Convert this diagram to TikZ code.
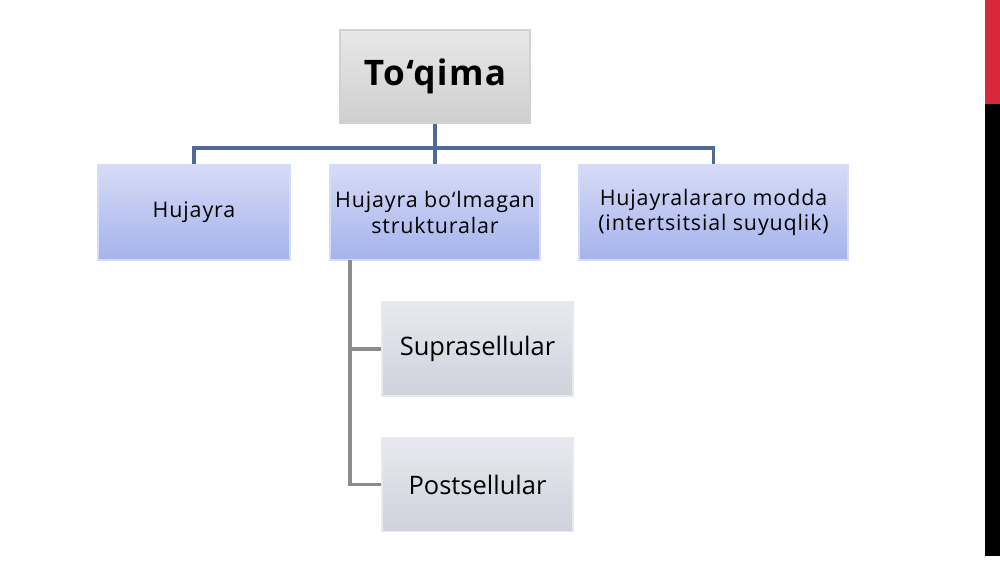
\documentclass[tikz,border=0pt]{standalone}
\usepackage{fontspec}
\setmainfont{Open Sans}
\usepackage[dvipsnames]{xcolor}

\definecolor{linkblue}{HTML}{4F6A99}
\definecolor{linkgray}{HTML}{8C8C8C}
\definecolor{lavtop}{HTML}{D6DBF6}
\definecolor{lavbot}{HTML}{A5B3EC}
\definecolor{subtop}{HTML}{E8E9F0}
\definecolor{subbot}{HTML}{CFD1DB}
\definecolor{bandred}{HTML}{D8283A}

\begin{document}
\begin{tikzpicture}[-,thick,
    top node/.style={rectangle,draw=gray!35,line width=0.6pt,top color=gray!18,bottom color=gray!38,
        minimum width=3.8cm,minimum height=1.86cm,font=\bfseries\fontsize{20}{23}\selectfont\addfontfeatures{LetterSpace=4}},
    main node/.style={rectangle,draw=lavtop,line width=0.6pt,top color=lavtop,bottom color=lavbot,
        minimum height=1.9cm,inner xsep=2pt,align=center,font=\fontsize{12.2}{14.6}\selectfont\addfontfeatures{LetterSpace=4}},
    sub node/.style={rectangle,draw=subtop,line width=0.6pt,top color=subtop,bottom color=subbot,
        minimum width=3.82cm,minimum height=1.88cm,font=\fontsize{14.5}{17}\selectfont},
    link/.style={draw=linkblue,line width=1.9pt},
    sublink/.style={draw=linkgray,line width=1.9pt}]

            \useasboundingbox (0,0) rectangle (20,-11.26);
            \fill[white] (0,0) rectangle (20,-11.26);
            \fill[bandred] (19.7,0) rectangle (20,-2.08);
            \fill[black] (19.7,-2.08) rectangle (20,-11.12);

            \node[top node] (1) at (8.7,-1.53) {To‘qima};
            \node[main node, minimum width=3.84cm] (2) at (3.88,-4.25) {Hujayra};
            \node[main node, minimum width=4.2cm] (3) at (8.7,-4.25) {Hujayra bo‘lmagan\\strukturalar};
            \node[main node, minimum width=5.38cm] (4) at (14.27,-4.25) {Hujayralararo modda\\(intertsitsial suyuqlik)};
            \node[sub node] (5) at (9.55,-6.98) {Suprasellular};
            \node[sub node] (6) at (9.55,-9.69) {Postsellular};

            \coordinate (bus) at (8.7,-2.96);
            \coordinate (trunk) at (7.0,-5.2);

            \draw[link] (1) to (3);
            \draw[link] (2.north) |- (bus) -| (4.north);
            \draw[sublink] (trunk) |- (6.west);
            \draw[sublink] (trunk |- 5.west) -- (5.west);

            ;
        \end{tikzpicture}
\end{document}
